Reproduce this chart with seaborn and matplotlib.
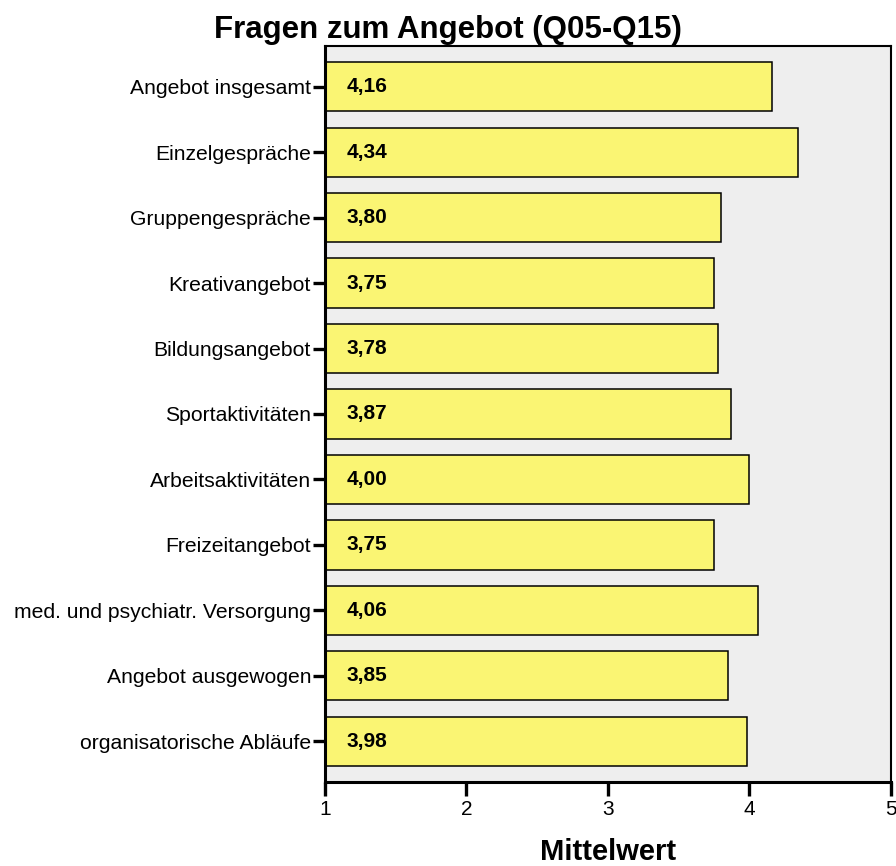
import matplotlib
matplotlib.use("Agg")
import matplotlib.pyplot as plt
import seaborn as sns
import pandas as pd

kategorien = ["Angebot insgesamt", "Einzelgespräche", "Gruppengespräche", "Kreativangebot",
              "Bildungsangebot", "Sportaktivitäten", "Arbeitsaktivitäten", "Freizeitangebot",
              "med. und psychiatr. Versorgung", "Angebot ausgewogen", "organisatorische Abläufe"]
mittelwerte = [4.16, 4.34, 3.80, 3.75, 3.78, 3.87, 4.00, 3.75, 4.06, 3.85, 3.98]
x_ticks = [1, 2, 3, 4, 5]

df = pd.DataFrame({"kategorie": kategorien, "mittelwert": mittelwerte})

sns.set_style("white")
plt.rcParams["font.family"] = ["Liberation Sans", "DejaVu Sans"]
plt.rcParams["text.color"] = "black"
plt.rcParams["xtick.color"] = "black"
plt.rcParams["ytick.color"] = "black"

fig = plt.figure(figsize=(8.96, 8.66), dpi=100)
ax = fig.add_axes([0.3627, 0.097, 0.9944 - 0.3627, 0.9469 - 0.097])
ax.set_facecolor("#EEEEEE")

sns.barplot(data=df, x="mittelwert", y="kategorie", orient="h", color="#FAF573",
            saturation=1, edgecolor="black", linewidth=1.1, width=0.75, ax=ax)

# Werte in die Balken schreiben
for i, wert in enumerate(mittelwerte):
    ax.text(1.155, i, f"{wert:.2f}".replace(".", ","), va="center", ha="left",
            fontsize=15, fontweight="bold", color="black")

ax.set_xlim(1, 5)
ax.set_ylim(10.62, -0.62)
ax.set_xticks(x_ticks)
ax.set_xticklabels([str(t) for t in x_ticks], fontsize=15)
ax.tick_params(axis="x", length=10, width=2.4, direction="out", pad=3)
ax.tick_params(axis="y", length=9, width=2.4, direction="out", labelsize=15.2, pad=1)
ax.xaxis.set_ticks_position("bottom")
ax.yaxis.set_ticks_position("left")
for s in ax.spines.values():
    s.set_color("black")
    s.set_linewidth(1.5)
ax.spines["left"].set_linewidth(2.2)
ax.spines["bottom"].set_linewidth(2.2)

ax.set_ylabel("")
ax.set_xlabel("")
fig.text(0.5, 1 - 38 / 866, "Fragen zum Angebot (Q05-Q15)", ha="center", va="baseline",
         fontsize=22.5, fontweight="bold")
fig.text(0.3627 + (0.9944 - 0.3627) / 2, 1 - 860 / 866, "Mittelwert", ha="center",
         va="baseline", fontsize=21, fontweight="bold")

fig.savefig("out.png", dpi=100)
